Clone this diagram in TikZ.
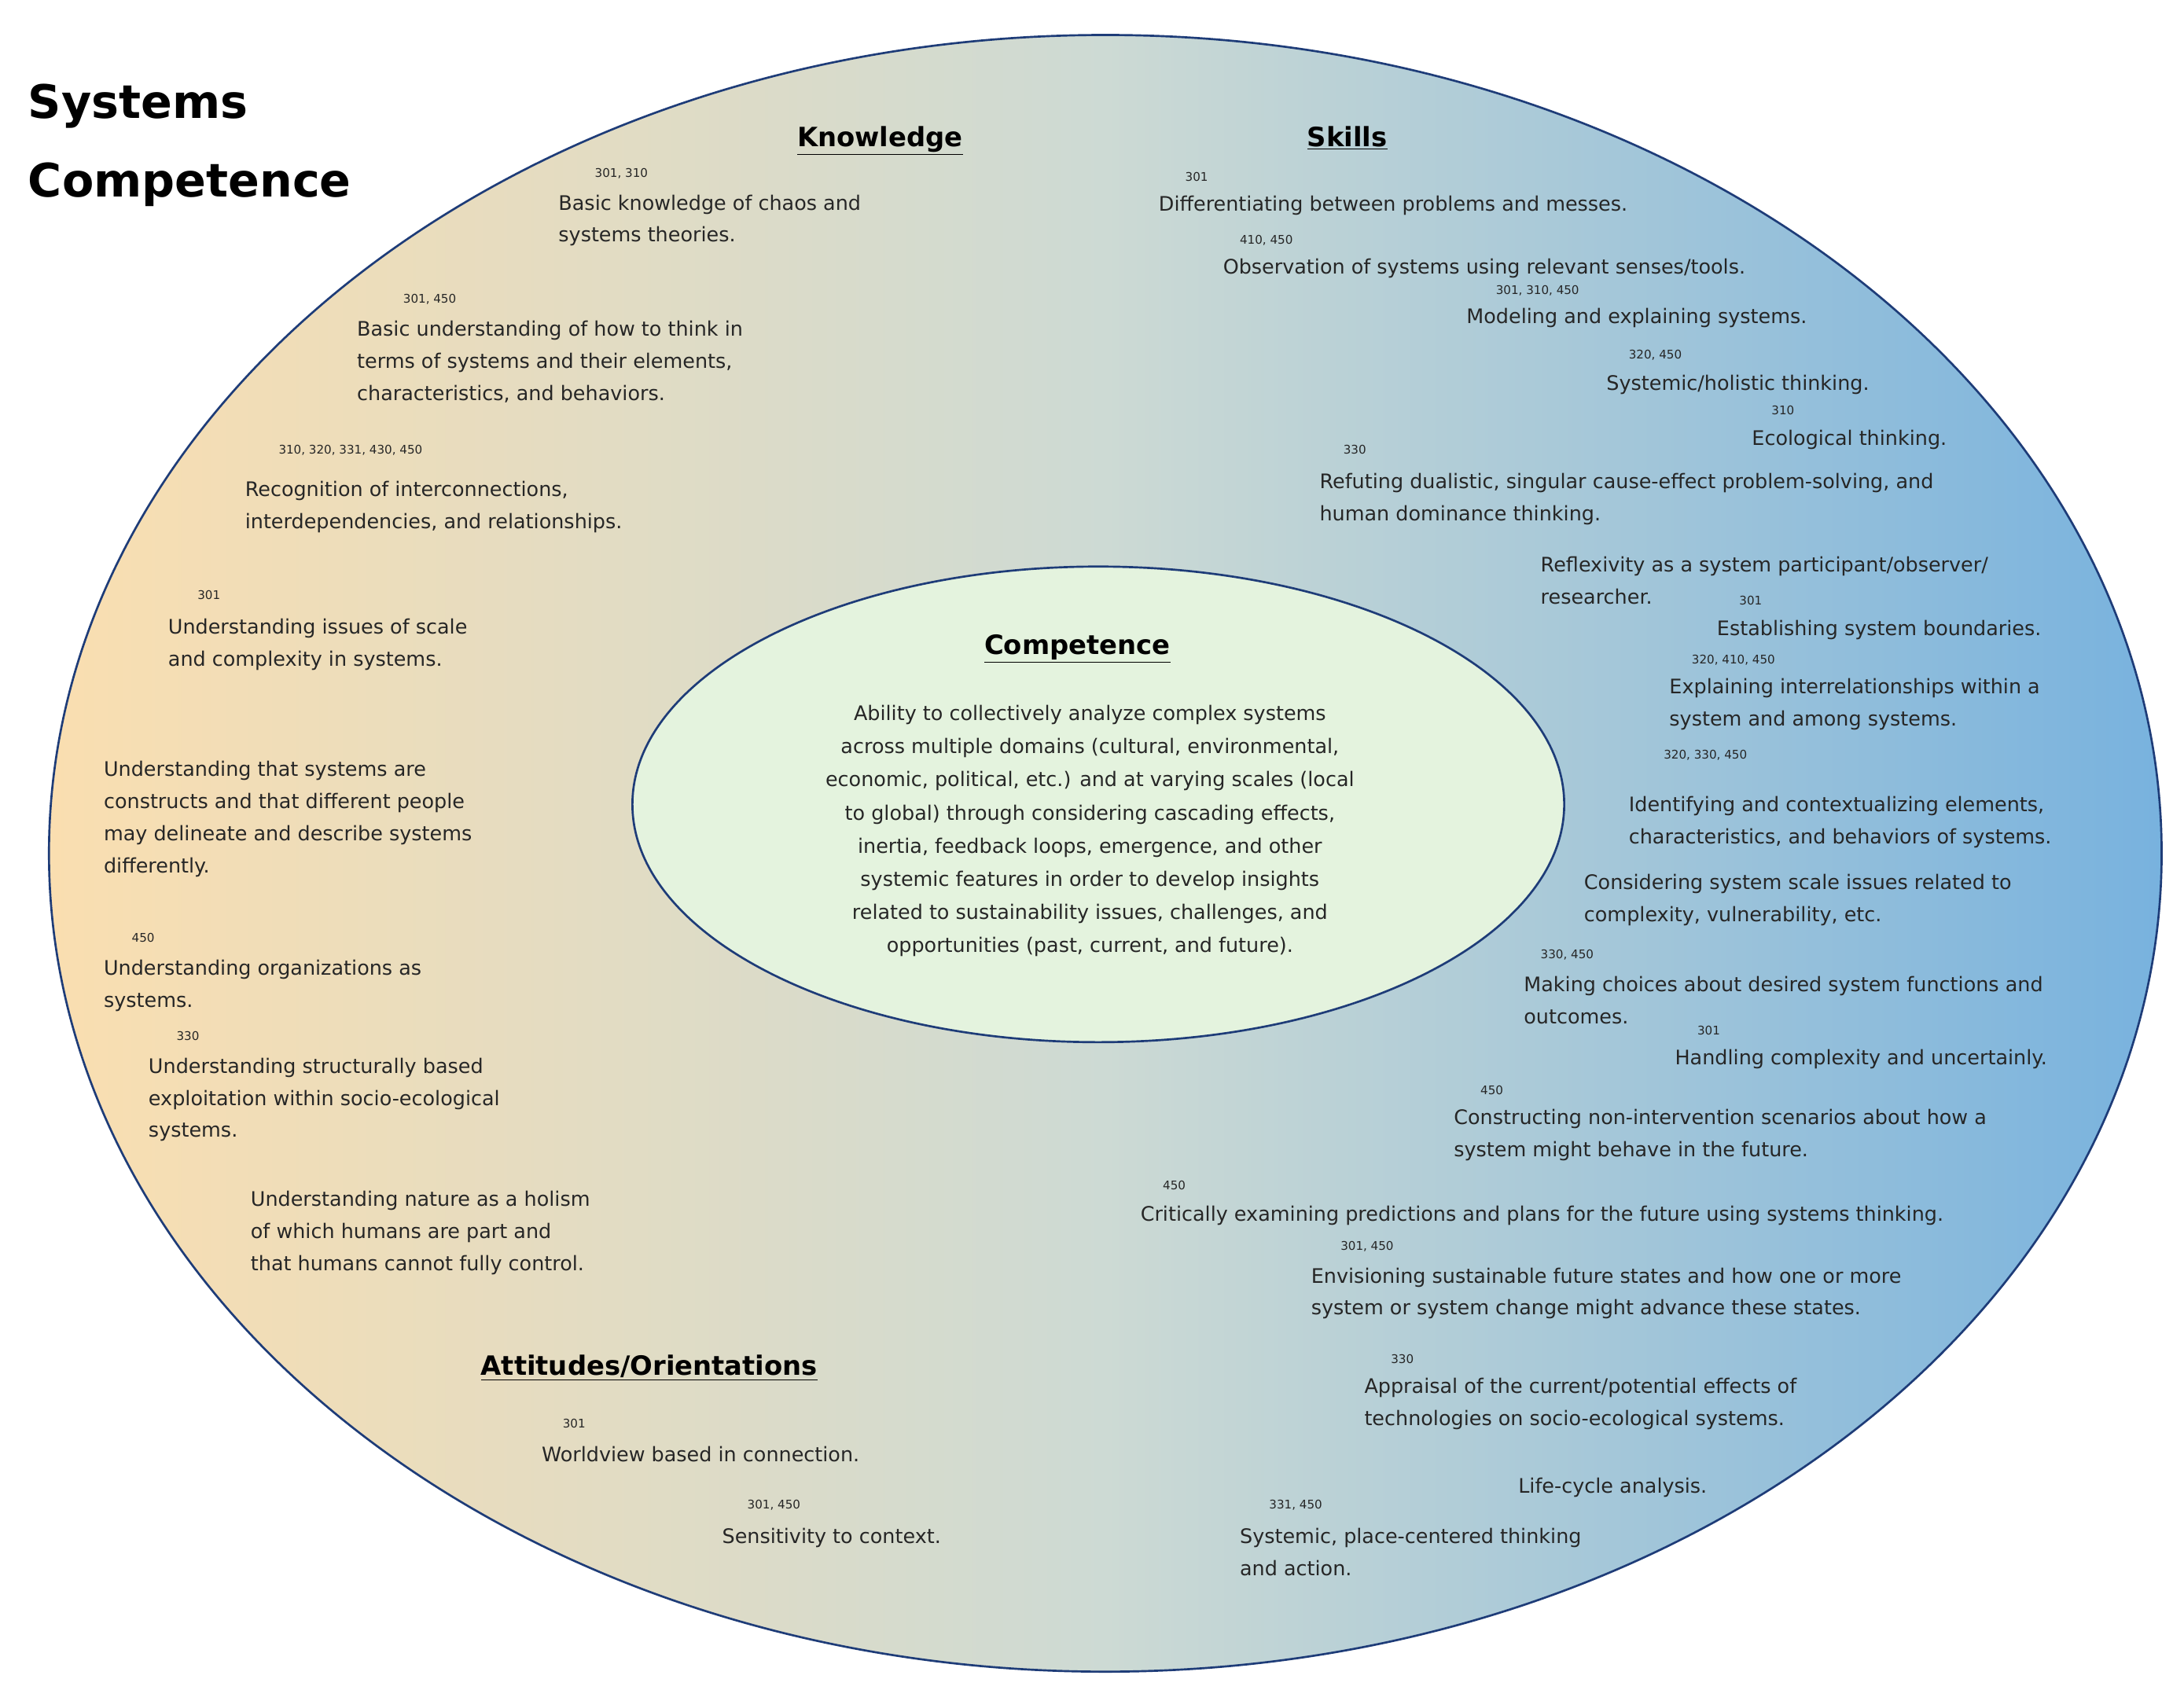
\documentclass[tikz,border=0pt]{standalone}
\usepackage{fontspec}
\setmainfont{DejaVu Sans}
\begin{document}
\begin{tikzpicture}[x=1pt,y=-1pt,
 t/.style={anchor=north west,inner sep=0pt,align=left,font=\fontsize{14.3}{23}\selectfont,text=black!85},
 n/.style={anchor=north west,inner sep=0pt,font=\fontsize{8.5}{11}\selectfont,text=black!85},
 h/.style={anchor=base,inner sep=0pt,font=\fontsize{19}{24}\selectfont\bfseries}]
\useasboundingbox (0,0) rectangle (1561,1208);
\fill[white] (0,0) rectangle (1561,1208);
\shade[left color={rgb,255:red,250;green,222;blue,176},right color={rgb,255:red,120;green,178;blue,222},middle color={rgb,255:red,205;green,218;blue,212}] (790,610) ellipse [x radius=755,y radius=585];
\draw[line width=1.5pt,color={rgb,255:red,30;green,60;blue,120}] (790,610) ellipse [x radius=755,y radius=585];
\draw[line width=1.5pt,color={rgb,255:red,30;green,60;blue,120},fill={rgb,255:red,228;green,243;blue,222}] (785,575) ellipse [x radius=333,y radius=170];
\node[anchor=north west,inner sep=0pt,align=left,font=\fontsize{33}{56}\selectfont\bfseries] (title) at (20,60) {Systems\\Competence};
\node[h] (hk) at (629,105) {\underline{Knowledge}};
\node[h] (hs) at (963,105) {\underline{Skills}};
\node[h] (hc) at (770,468) {\underline{Competence}};
\node[h] (ha) at (464,983) {\underline{Attitudes/Orientations}};
\node[anchor=north,inner sep=0pt,align=center,font=\fontsize{14.3}{23.7}\selectfont,text=black!85] (comp) at (779,504) {Ability to collectively analyze complex systems\\across multiple domains (cultural, environmental,\\economic, political, etc.) and at varying scales (local\\to global) through considering cascading effects,\\inertia, feedback loops, emergence, and other\\systemic features in order to develop insights\\related to sustainability issues, challenges, and\\opportunities (past, current, and future).};
% Knowledge
\node[n] (kn1) at (425,120) {301, 310};
\node[t] (k1) at (399,139) {Basic knowledge of chaos and\\systems theories.};
\node[n] (kn2) at (288,210) {301, 450};
\node[t] (k2) at (255,229) {Basic understanding of how to think in\\terms of systems and their elements,\\characteristics, and behaviors.};
\node[n] (kn3) at (199,318) {310, 320, 331, 430, 450};
\node[t] (k3) at (175,344) {Recognition of interconnections,\\interdependencies, and relationships.};
\node[n] (kn4) at (141,422) {301};
\node[t] (k4) at (120,442) {Understanding issues of scale\\and complexity in systems.};
\node[t] (k5) at (74,544) {Understanding that systems are\\constructs and that different people\\may delineate and describe systems\\differently.};
\node[n] (kn6) at (94,667) {450};
\node[t] (k6) at (74,686) {Understanding organizations as\\systems.};
\node[n] (kn7) at (126,737) {330};
\node[t] (k7) at (106,756) {Understanding structurally based\\exploitation within socio-ecological\\systems.};
\node[t] (k8) at (179,851) {Understanding nature as a holism\\of which humans are part and\\that humans cannot fully control.};
% Attitudes
\node[n] (an1) at (402,1014) {301};
\node[t] (a1) at (387,1034) {Worldview based in connection.};
\node[n] (an2) at (534,1072) {301, 450};
\node[t] (a2) at (516,1092) {Sensitivity to context.};
% Skills
\node[n] (sn1) at (847,123) {301};
\node[t] (s1) at (828,140) {Differentiating between problems and messes.};
\node[n] (sn2) at (886,168) {410, 450};
\node[t] (s2) at (874,185) {Observation of systems using relevant senses/tools.};
\node[n] (sn3) at (1069,204) {301, 310, 450};
\node[t] (s3) at (1048,220) {Modeling and explaining systems.};
\node[n] (sn4) at (1164,250) {320, 450};
\node[t] (s4) at (1148,268) {Systemic/holistic thinking.};
\node[n] (sn5) at (1266,290) {310};
\node[t] (s5) at (1252,307) {Ecological thinking.};
\node[n] (sn6) at (960,318) {330};
\node[t] (s6) at (943,338) {Refuting dualistic, singular cause-effect problem-solving, and\\human dominance thinking.};
\node[t] (s7) at (1101,398) {Reflexivity as a system participant/observer/\\researcher.};
\node[n] (sn8) at (1243,426) {301};
\node[t] (s8) at (1227,443) {Establishing system boundaries.};
\node[n] (sn9) at (1209,468) {320, 410, 450};
\node[t] (s9) at (1193,485) {Explaining interrelationships within a\\system and among systems.};
\node[n] (sn10) at (1189,536) {320, 330, 450};
\node[t] (s10) at (1164,569) {Identifying and contextualizing elements,\\characteristics, and behaviors of systems.};
\node[t] (s11) at (1132,625) {Considering system scale issues related to\\complexity, vulnerability, etc.};
\node[n] (sn12) at (1101,679) {330, 450};
\node[t] (s12) at (1089,698) {Making choices about desired system functions and\\outcomes.};
\node[n] (sn13) at (1213,733) {301};
\node[t] (s13) at (1197,750) {Handling complexity and uncertainly.};
\node[n] (sn14) at (1058,776) {450};
\node[t] (s14) at (1039,793) {Constructing non-intervention scenarios about how a\\system might behave in the future.};
\node[n] (sn15) at (831,844) {450};
\node[t] (s15) at (815,862) {Critically examining predictions and plans for the future using systems thinking.};
\node[n] (sn16) at (958,887) {301, 450};
\node[t] (s16) at (937,906) {Envisioning sustainable future states and how one or more\\system or system change might advance these states.};
\node[n] (sn17) at (994,968) {330};
\node[t] (s17) at (975,985) {Appraisal of the current/potential effects of\\technologies on socio-ecological systems.};
\node[t] (s18) at (1085,1056) {Life-cycle analysis.};
\node[n] (sn19) at (907,1072) {331, 450};
\node[t] (s19) at (886,1092) {Systemic, place-centered thinking\\and action.};
\end{tikzpicture}
\end{document}
